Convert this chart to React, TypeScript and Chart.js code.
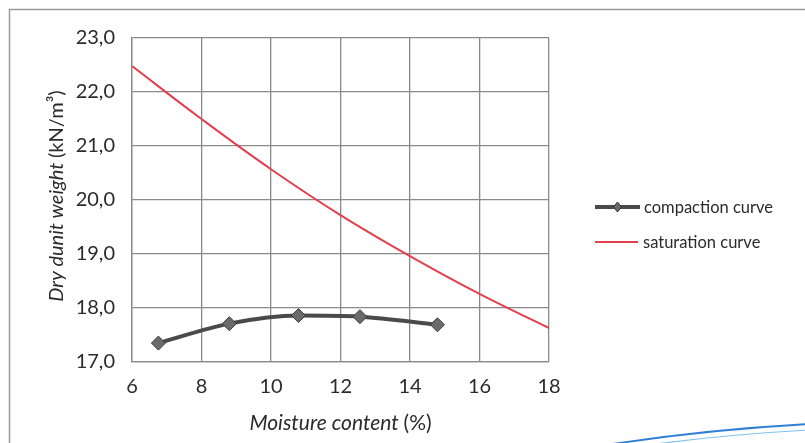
import React, { useEffect, useRef } from "react";
import { Chart, registerables } from "chart.js";

Chart.register(...registerables);

const compactionX = [6.76, 8.8, 10.79, 12.56, 14.79];
const compactionY = [17.35, 17.71, 17.86, 17.84, 17.69];
const saturationX = [6, 8, 10, 12, 14, 16, 18];
const saturationY = [22.48, 21.5, 20.57, 19.72, 18.96, 18.26, 17.63];
const seriesNames = ["compaction curve", "saturation curve"];
const xTitleParts = [
  { text: "Moisture content ", italic: true },
  { text: "(%)", italic: false },
];
const yTitleParts = [
  { text: "Dry dunit weight ", italic: true },
  { text: "(kN/m³)", italic: false },
];

const FONT = "Lato, 'Open Sans', sans-serif";
const TEXT_COLOR = "#2b2b2b";
const GRID = "#8a8a8a";
const COMP_LINE = "#4a4a4a";
const COMP_POINT = "#6b6b6b";
const SAT = "#e2404c";

function drawParts(ctx: CanvasRenderingContext2D, parts: { text: string; italic: boolean }[], size: number) {
  let total = 0;
  const widths = parts.map((p) => {
    ctx.font = `${p.italic ? "italic " : ""}${size}px ${FONT}`;
    const w = ctx.measureText(p.text).width;
    total += w;
    return w;
  });
  let x = -total / 2;
  parts.forEach((p, i) => {
    ctx.font = `${p.italic ? "italic " : ""}${size}px ${FONT}`;
    ctx.fillText(p.text, x, 0);
    x += widths[i];
  });
}

const decorPlugin = {
  id: "decor",
  beforeDraw(chart: any) {
    const ctx = chart.ctx as CanvasRenderingContext2D;
    ctx.save();
    ctx.fillStyle = "#ffffff";
    ctx.fillRect(0, 0, chart.width, chart.height);
    ctx.strokeStyle = "#9a9a9a";
    ctx.lineWidth = 1.5;
    ctx.beginPath();
    ctx.moveTo(9.5, 460);
    ctx.lineTo(9.5, 9.5);
    ctx.lineTo(820, 9.5);
    ctx.stroke();
    ctx.restore();
  },
  afterDraw(chart: any) {
    const ctx = chart.ctx as CanvasRenderingContext2D;
    const area = chart.chartArea;
    ctx.save();
    ctx.fillStyle = TEXT_COLOR;
    ctx.textBaseline = "middle";
    // x title
    ctx.save();
    ctx.translate((area.left + area.right) / 2, 423);
    drawParts(ctx, xTitleParts, 21);
    ctx.restore();
    // y title
    ctx.save();
    ctx.translate(57, 196);
    ctx.rotate(-Math.PI / 2);
    drawParts(ctx, yTitleParts, 20);
    ctx.restore();

    // legend
    const lx0 = 595;
    const lx1 = 640;
    const ly0 = 207;
    const ly1 = 242;
    ctx.strokeStyle = COMP_LINE;
    ctx.lineWidth = 4;
    ctx.beginPath();
    ctx.moveTo(lx0, ly0);
    ctx.lineTo(lx1, ly0);
    ctx.stroke();
    const dx = (lx0 + lx1) / 2;
    ctx.fillStyle = COMP_POINT;
    ctx.strokeStyle = "#333";
    ctx.lineWidth = 1;
    ctx.beginPath();
    ctx.moveTo(dx, ly0 - 5);
    ctx.lineTo(dx + 4, ly0);
    ctx.lineTo(dx, ly0 + 5);
    ctx.lineTo(dx - 4, ly0);
    ctx.closePath();
    ctx.fill();
    ctx.stroke();
    ctx.strokeStyle = SAT;
    ctx.lineWidth = 2;
    ctx.beginPath();
    ctx.moveTo(lx0, ly1);
    ctx.lineTo(lx1 - 2, ly1);
    ctx.stroke();
    ctx.fillStyle = TEXT_COLOR;
    ctx.font = `16.5px ${FONT}`;
    ctx.textAlign = "left";
    ctx.fillText(seriesNames[0], lx1 + 4, ly0 + 1);
    ctx.fillText(seriesNames[1], lx1 + 3, ly1 + 1);

    // blue swoosh decoration
    ctx.strokeStyle = "#2f7fd6";
    ctx.lineWidth = 2;
    ctx.beginPath();
    ctx.moveTo(600, 446);
    ctx.quadraticCurveTo(700, 430, 810, 424);
    ctx.stroke();
    ctx.strokeStyle = "#7cc0ee";
    ctx.lineWidth = 1.2;
    ctx.beginPath();
    ctx.moveTo(640, 446);
    ctx.quadraticCurveTo(730, 434, 810, 430);
    ctx.stroke();
    ctx.restore();
  },
};

export default function App() {
  const ref = useRef<HTMLCanvasElement | null>(null);
  useEffect(() => {
    if (!ref.current) return;
    const chart = new Chart(ref.current, {
      type: "line",
      data: {
        datasets: [
          {
            label: seriesNames[0],
            data: compactionX.map((x, i) => ({ x, y: compactionY[i] })),
            borderColor: COMP_LINE,
            borderWidth: 4,
            backgroundColor: COMP_POINT,
            pointStyle: "rectRot",
            pointRadius: 7,
            pointBorderColor: "#3a3a3a",
            pointBorderWidth: 1,
            pointBackgroundColor: COMP_POINT,
            cubicInterpolationMode: "monotone",
            fill: false,
          },
          {
            label: seriesNames[1],
            data: saturationX.map((x, i) => ({ x, y: saturationY[i] })),
            borderColor: SAT,
            borderWidth: 2,
            pointRadius: 0,
            tension: 0.4,
            fill: false,
          },
        ],
      },
      options: {
        responsive: false,
        animation: false,
        layout: { padding: { left: 0, top: 38, right: 256, bottom: 0 } },
        plugins: { legend: { display: false }, tooltip: { enabled: false } },
        scales: {
          x: {
            type: "linear",
            min: 6,
            max: 18,
            ticks: {
              stepSize: 2,
              color: TEXT_COLOR,
              font: { family: FONT, size: 20 },
              padding: 13,
            },
            grid: { color: GRID, lineWidth: 1.3, drawTicks: false },
            border: { color: GRID, width: 1.3 },
            afterFit: (s: any) => {
              s.height = 81;
            },
          },
          y: {
            type: "linear",
            min: 17,
            max: 23,
            ticks: {
              stepSize: 1,
              color: TEXT_COLOR,
              font: { family: FONT, size: 20 },
              padding: 17,
              callback: (v: any) => Number(v).toFixed(1).replace(".", ","),
            },
            grid: { color: GRID, lineWidth: 1.3, drawTicks: false },
            border: { color: GRID, width: 1.3 },
            afterFit: (s: any) => {
              s.width = 132;
            },
          },
        },
      },
      plugins: [decorPlugin],
    } as any);
    return () => chart.destroy();
  }, []);
  return (
    <div style={{ position: "fixed", left: 0, top: 0, width: 805, height: 443, background: "#fff" }}>
      <canvas ref={ref} width={805} height={443} style={{ display: "block" }} />
    </div>
  );
}
